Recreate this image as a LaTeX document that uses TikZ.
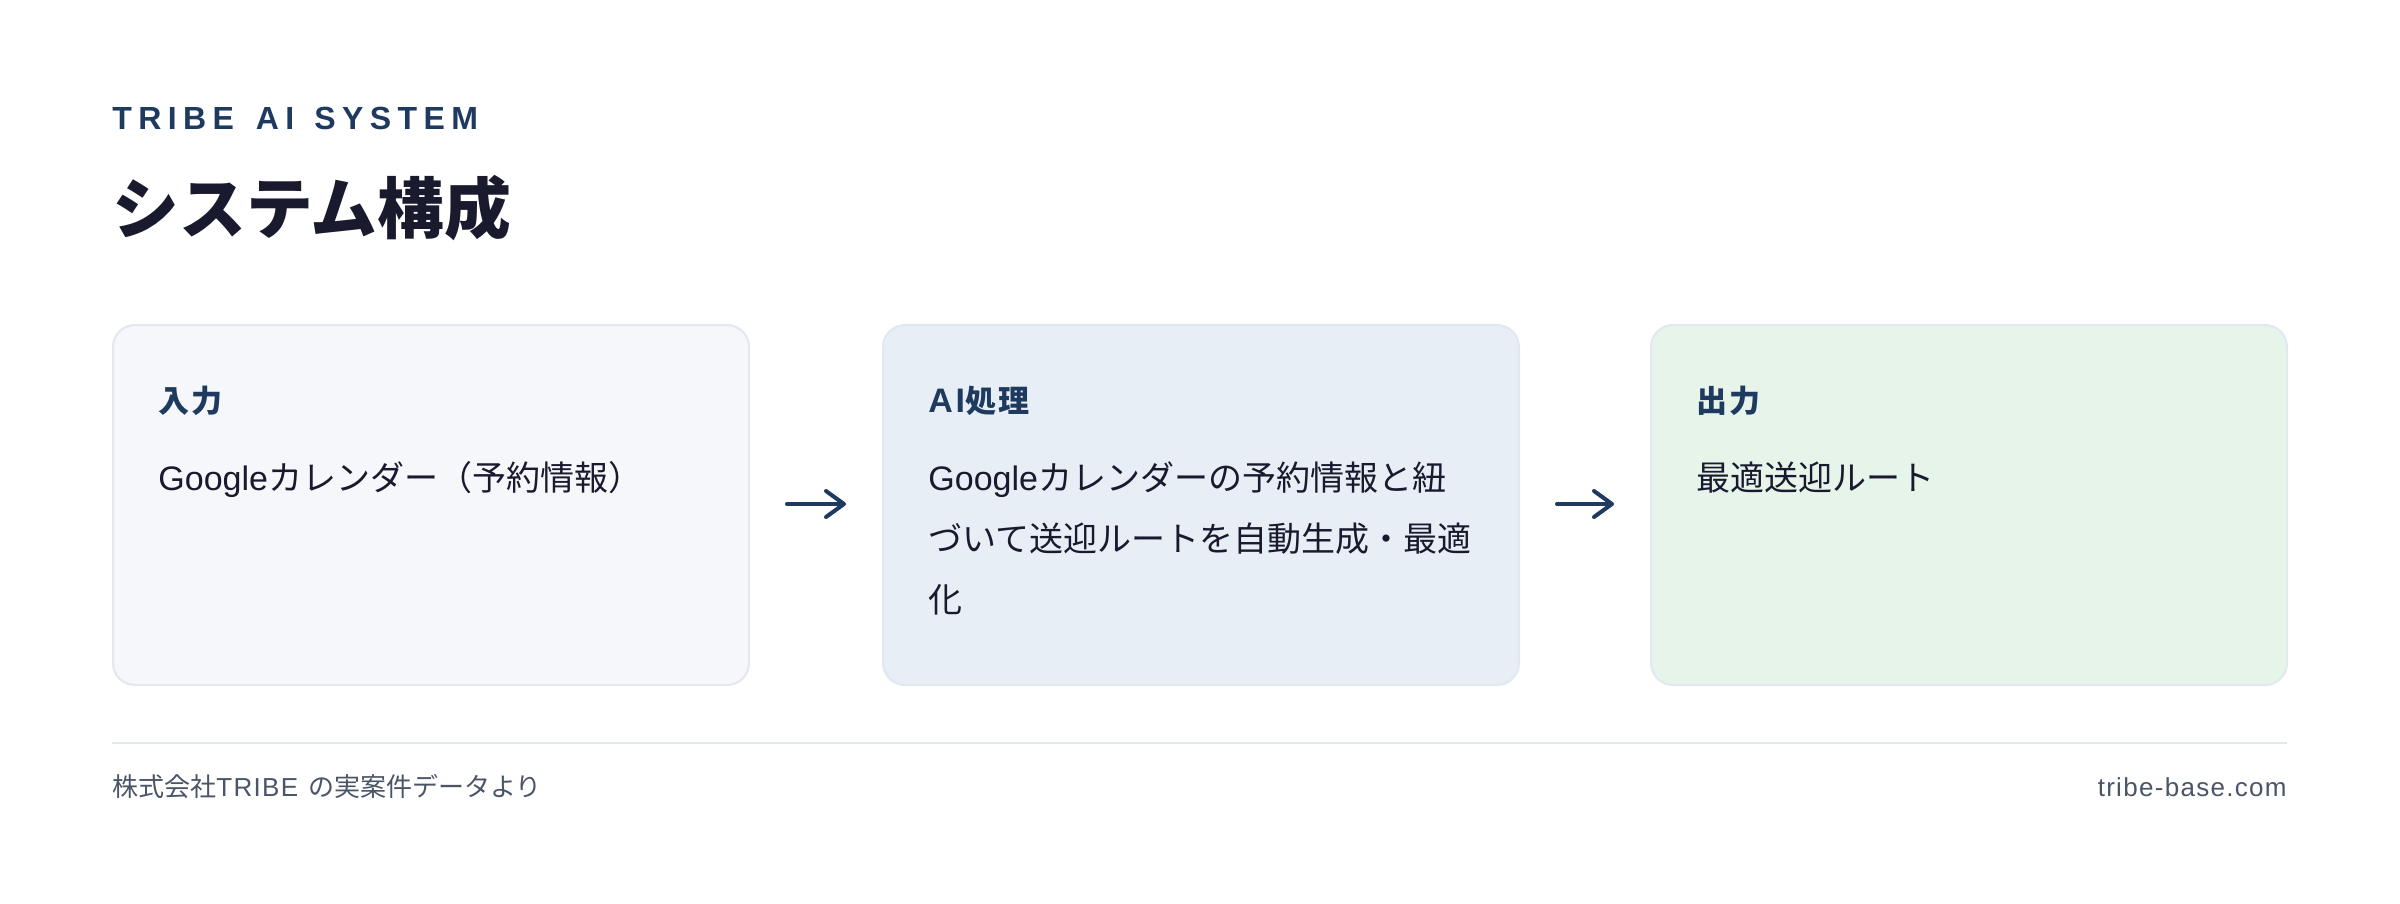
\documentclass[tikz,border=0pt]{standalone}
\usepackage{fontspec}
\setmainfont{Noto Sans CJK JP}
\newfontfamily\lat{Liberation Sans}
\newfontfamily\latft[LetterSpace=5]{Liberation Sans}
\newfontfamily\latsp[LetterSpace=20]{Liberation Sans}
\newfontfamily\latlab[LetterSpace=8]{Liberation Sans}
\newfontfamily\jplab[LetterSpace=8]{Noto Sans CJK JP}
\usetikzlibrary{arrows.meta}
\definecolor{navy}{HTML}{1E3A5F}
\definecolor{ink}{HTML}{1A1A2E}
\definecolor{muted}{HTML}{4A5568}
\definecolor{rulec}{HTML}{E2E8F0}
\definecolor{fillA}{HTML}{F5F7FA}
\definecolor{fillB}{HTML}{E8EEF6}
\definecolor{fillC}{HTML}{E6F4EA}
\begin{document}
\begin{tikzpicture}[x=0.5pt,y=-0.5pt,
  card/.style={draw=rulec, line width=1pt, rounded corners=11pt,
    minimum width=318pt, minimum height=180pt, anchor=north west, inner sep=0pt},
  lab/.style={anchor=base west, inner sep=0pt, text=navy,
    font=\jplab\bfseries\fontsize{15.5pt}{18pt}\selectfont},
  body/.style={anchor=base west, inner sep=0pt, text=ink,
    font=\fontsize{17pt}{20pt}\selectfont},
  foot/.style={inner sep=0pt, text=muted, font=\fontsize{13pt}{16pt}\selectfont},
  flow/.style={draw=navy, line width=2pt, line cap=round,
    -{Straight Barb[length=9pt,width=13pt,round]}}
]
\useasboundingbox (0,0) rectangle (2400,904);
\fill[white] (0,0) rectangle (2400,904);

% header
\node[anchor=base west, inner sep=0pt, text=navy,
  font=\latsp\bfseries\fontsize{16pt}{18pt}\selectfont] (kicker) at (112,130)
  {TRIBE\hspace{11pt}AI\hspace{10pt}SYSTEM};
\node[anchor=base west, inner sep=0pt, text=ink,
  font=\bfseries\fontsize{33.4pt}{36pt}\selectfont] (title) at (112,234) {システム構成};

% cards
\node[card, fill=fillA] (b1) at (112,324) {};
\node[card, fill=fillB] (b2) at (882,324) {};
\node[card, fill=fillC] (b3) at (1650,324) {};

% card texts
\node[lab] (l1) at (158,412) {入力};
\node[body] (t1) at (158,490) {{\lat Google}カレンダー（予約情報）};

\node[lab] (l2) at (928,412) {{\latlab\bfseries\fontsize{17pt}{18pt}\selectfont AI}処理};
\node[body] (t2a) at (928,490) {{\lat Google}カレンダーの予約情報と紐};
\node[body] (t2b) at (928,551) {づいて送迎ルートを自動生成・最適};
\node[body] (t2c) at (928,612) {化};

\node[lab] (l3) at (1696,412) {出力};
\node[body] (t3) at (1696,490) {最適送迎ルート};

% arrows
\draw[flow] ([xshift=18.5pt,yshift=0.5pt]b1.east) -- ([xshift=-18pt,yshift=0.5pt]b2.west);
\draw[flow] ([xshift=18.5pt,yshift=0.5pt]b2.east) -- ([xshift=-18pt,yshift=0.5pt]b3.west);

% footer
\coordinate (sepL) at (112,743);
\coordinate (sepR) at (2287,743);
\draw[draw=rulec, line width=1pt] (sepL) -- (sepR);
\node[foot, anchor=base west] (src) at (112,796) {株式会社{\latft TRIBE}\hspace{5pt}の実案件データより};
\node[foot, anchor=base east] (url) at (2287,796) {{\latft tribe-base.com}};
\end{tikzpicture}
\end{document}
